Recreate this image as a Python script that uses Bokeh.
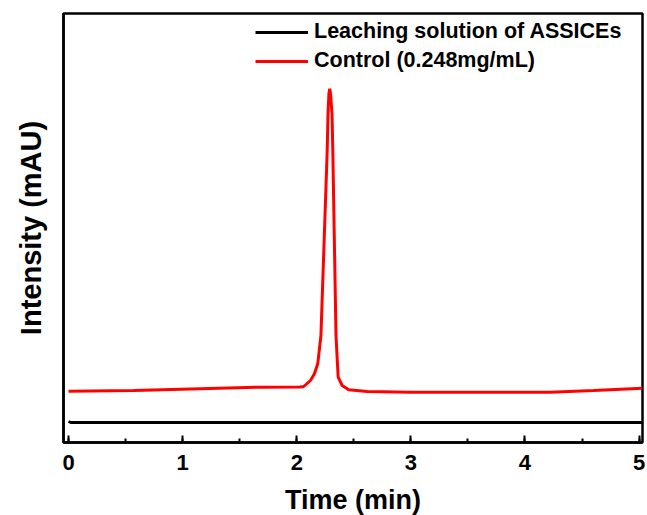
from bokeh.plotting import figure
from bokeh.models import Range1d, SingleIntervalTicker, FixedTicker, Legend, LegendItem
from bokeh.embed import file_html
from bokeh.resources import INLINE

# Red curve: Control (0.248 mg/mL)
control_t = [0.0, 0.57, 1.155, 1.68, 2.03, 2.061, 2.120, 2.155, 2.184, 2.212, 2.267, 2.274, 2.282, 2.289,
             2.296, 2.309, 2.316, 2.344, 2.363, 2.398, 2.456, 2.618, 3.0, 3.5, 4.22, 4.6, 5.03]
control_y = [51.3, 52.0, 53.7, 55.3, 55.5, 56.0, 62.0, 68.7, 78.7, 107.0, 292.0, 329.0, 349.0, 353.7,
             349.0, 329.0, 292.0, 107.0, 65.3, 57.0, 52.7, 51.0, 50.3, 50.3, 50.3, 52.0, 54.3]

# Black curve: Leaching solution of ASSICEs
leach_t = [0.0, 0.02, 0.5, 1.0, 1.5, 2.0, 2.5, 3.0, 3.5, 4.0, 4.5, 5.03]
leach_y = [21.0, 20.0, 20.0, 20.0, 20.0, 20.0, 20.0, 20.0, 20.0, 20.0, 20.0, 20.0]

x_ticks_major = 1
FONT = "Liberation Sans"

p = figure(width=647, height=515, output_backend="svg", toolbar_location=None,
           x_range=Range1d(-0.044, 5.03), y_range=Range1d(0, 429),
           min_border_left=63, min_border_right=5, min_border_top=13, min_border_bottom=73,
           frame_width=579, frame_height=429)

p.grid.visible = False
p.background_fill_color = "white"
p.border_fill_color = "white"
p.outline_line_color = "black"
p.outline_line_width = 2.5

r_black = p.line(leach_t, leach_y, line_color="black", line_width=3)
r_red = p.line(control_t, control_y, line_color="#ff0000", line_width=3)

xa = p.xaxis[0]
xa.ticker = SingleIntervalTicker(interval=x_ticks_major, num_minor_ticks=2)
xa.axis_line_width = 2.5
xa.major_tick_in = 7
xa.major_tick_out = 0
xa.minor_tick_in = 4
xa.minor_tick_out = 0
xa.major_tick_line_width = 2
xa.minor_tick_line_width = 2
xa.major_label_text_font = FONT
xa.major_label_text_font_style = "bold"
xa.major_label_text_font_size = "22px"
xa.major_label_text_color = "black"
xa.major_label_standoff = 12
xa.axis_label = "Time (min)"
xa.axis_label_text_font = FONT
xa.axis_label_text_font_style = "bold"
xa.axis_label_text_font_size = "27px"
xa.axis_label_text_color = "black"
xa.axis_label_standoff = 12

ya = p.yaxis[0]
ya.ticker = FixedTicker(ticks=[])
ya.axis_line_width = 2.5
ya.major_tick_line_color = None
ya.minor_tick_line_color = None
ya.major_label_text_font_size = "0px"
ya.axis_label = "Intensity (mAU)"
ya.axis_label_text_font = FONT
ya.axis_label_text_font_style = "bold"
ya.axis_label_text_font_size = "29px"
ya.axis_label_text_color = "black"
ya.axis_label_standoff = 17

legend = Legend(items=[LegendItem(label="Leaching solution of ASSICEs", renderers=[r_black]),
                       LegendItem(label="Control (0.248mg/mL)", renderers=[r_red])],
                location=(192, 369))
legend.border_line_color = None
legend.background_fill_alpha = 0
legend.label_text_font = FONT
legend.label_text_font_style = "bold"
legend.label_text_font_size = "21.5px"
legend.label_text_color = "black"
legend.glyph_width = 53
legend.glyph_height = 24
legend.label_height = 24
legend.label_standoff = 6
legend.spacing = 4
legend.padding = 0
legend.margin = 0
p.add_layout(legend)

open("out.html", "w").write(file_html(p, INLINE))
